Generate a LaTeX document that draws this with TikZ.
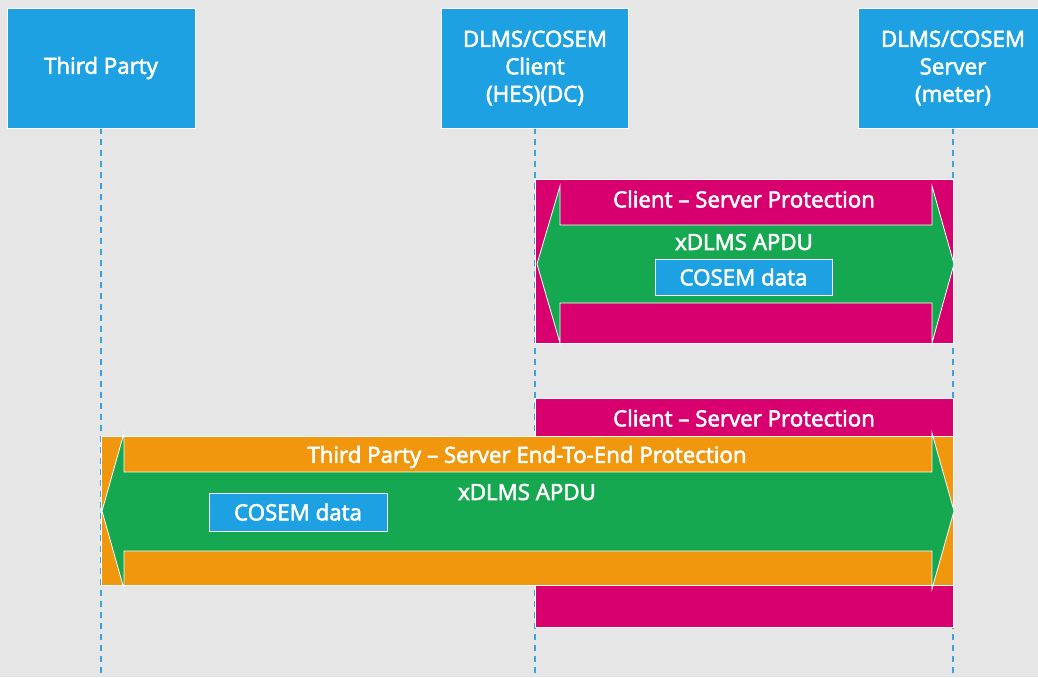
\documentclass[tikz,border=0pt]{standalone}
\usepackage{fontspec}
\setmainfont{Open Sans}[FakeBold=2.6]
\definecolor{bg}{HTML}{E6E6E6}
\definecolor{mblue}{HTML}{1DA1E2}
\definecolor{lline}{HTML}{3AA2DE}
\definecolor{mmag}{HTML}{D8006F}
\definecolor{mgreen}{HTML}{16A850}
\definecolor{morange}{HTML}{F0970D}
\tikzset{
  lifeline/.style={draw=lline, line width=1.2pt, dash pattern=on 6pt off 5pt},
  actor/.style={fill=mblue, draw=white, line width=0.6pt},
  band/.style={draw=white, line width=0.8pt},
  lbl/.style={text=white, font=\fontsize{22.3}{27.5}\selectfont, align=center, inner sep=0pt},
  databox/.style={fill=mblue, draw=white, line width=0.6pt, text=white,
    font=\fontsize{22.3}{24}\selectfont, inner sep=0pt}
}
\begin{document}
\begin{tikzpicture}[x=1pt,y=-1pt]
\fill[bg] (0,0) rectangle (1038,677);
\useasboundingbox (0,0) rectangle (1038,677);

% lifelines
\coordinate (tpTop) at (101,128);  \coordinate (tpBot) at (101,677);
\coordinate (clTop) at (535,128);  \coordinate (clBot) at (535,677);
\coordinate (svTop) at (953,128);  \coordinate (svBot) at (953,677);
\draw[lifeline] (tpTop) -- (tpBot);
\draw[lifeline] (clTop) -- (clBot);
\draw[lifeline] (svTop) -- (svBot);

% participants
\draw[actor] (7,8) rectangle (195,128);
\draw[actor] (441,8) rectangle (628,128);
\draw[actor] (858,8) rectangle (1050,128);
\node[lbl] (tp) at (101,68) {Third Party};
\node[lbl] (cl) at (535,68) {DLMS/COSEM\\Client\\(HES)(DC)};
\node[lbl] (sv) at (953,68) {DLMS/COSEM\\Server\\(meter)};

% upper exchange: client-server protection only
\draw[band, fill=mmag] (535,179) rectangle (953,343);
\draw[band, fill=mgreen] (537,264) -- (560,186) -- (560,225) -- (932,225) -- (932,186)
  -- (954,264) -- (932,343) -- (932,303) -- (560,303) -- (560,343) -- cycle;
\node[lbl] (csp1) at (744,199) {Client -- Server Protection};
\node[lbl] (apdu1) at (744,242) {xDLMS APDU};
\node[databox, minimum width=177pt, minimum height=36pt] (data1) at (743.5,277) {COSEM data};

% lower exchange: end-to-end protection inside client-server protection
\draw[band, fill=mmag] (535,398) rectangle (953,627);
\node[lbl] (csp2) at (744,418) {Client -- Server Protection};
\draw[band, fill=morange] (101,436) rectangle (953,585);
\draw[band, fill=mgreen] (102,511) -- (124,433) -- (124,472) -- (932,472) -- (932,433)
  -- (954,511) -- (932,589) -- (932,551) -- (124,551) -- (124,589) -- cycle;
\node[lbl] (e2e) at (527,457) {Third Party -- Server End-To-End Protection};
\node[lbl] (apdu2) at (527,492) {xDLMS APDU};
\node[databox, minimum width=178pt, minimum height=38pt] (data2) at (298,512) {COSEM data};
\end{tikzpicture}
\end{document}
